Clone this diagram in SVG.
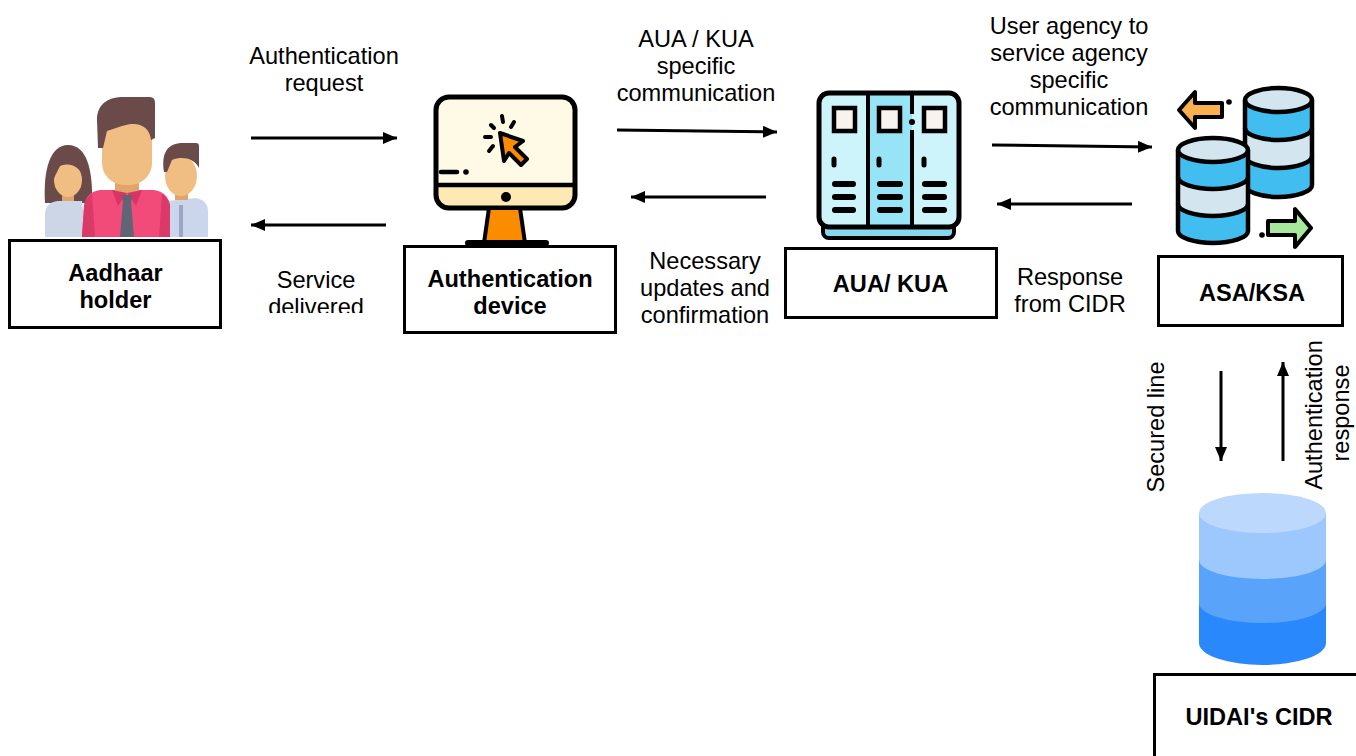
<svg xmlns="http://www.w3.org/2000/svg" width="1356" height="756" viewBox="0 0 1356 756">
  <defs>
    <marker id="head" viewBox="0 0 14 12" refX="14" refY="6" markerWidth="14" markerHeight="12" markerUnits="userSpaceOnUse" orient="auto">
      <path d="M0,0 L14,6 L0,12 Z" fill="#000"/>
    </marker>
    <clipPath id="svcClip"><rect x="240" y="250" width="160" height="63"/></clipPath>
    <clipPath id="screenClip"><rect x="436" y="97" width="139" height="111" rx="13"/></clipPath>
  </defs>
  <style>
    .box { fill: #fff; stroke: #000; stroke-width: 3; }
    .name { font-family: "Liberation Sans", Arial, sans-serif; font-weight: bold; font-size: 23.6px; fill: #000; text-anchor: middle; }
    .lbl { font-family: "Liberation Sans", Arial, sans-serif; font-size: 23.6px; fill: #000; text-anchor: middle; }
    .conn { stroke: #000; stroke-width: 3; fill: none; marker-end: url(#head); }
    .ink { stroke: #000; fill: none; stroke-linecap: round; stroke-linejoin: round; }
  </style>
  <rect width="1356" height="756" fill="#fff"/>

  <!-- Aadhaar holder -->
  <g id="aadhaar-holder">
    <!-- woman -->
    <path d="M45,203 C43,170 50,145 68,145 C87,145 93,170 92,203 Z" fill="#6b4a4a"/>
    <rect x="62" y="190" width="12" height="14" fill="#e0a56b"/>
    <ellipse cx="68" cy="180" rx="14" ry="17" fill="#f0be82"/>
    <path d="M53,180 C52,162 60,152 70,152 C80,152 86,162 84,176 C78,166 70,162 60,166 Z" fill="#6b4a4a"/>
    <path d="M45,237 L45,213 Q46,202 58,201 L82,201 L86,237 Z" fill="#cdd6e7"/>
    <!-- boy -->
    <path d="M165,237 L167,201 L196,198 Q208,200 208,212 L208,237 Z" fill="#cbd5eb"/>
    <rect x="179" y="205" width="4" height="32" fill="#9aa6c2"/>
    <rect x="175" y="186" width="13" height="14" fill="#e0a56b"/>
    <ellipse cx="181" cy="176" rx="16" ry="20" fill="#f0be82"/>
    <path d="M164,172 C161,152 168,143 183,143 L196,143 Q199,143 199,146 L199,168 C194,158 182,156 172,160 L167,172 Z" fill="#6b4a4a"/>
    <!-- man -->
    <path d="M82,237 L84,206 Q86,192 100,190 L154,190 Q168,192 170,206 L170,237 Z" fill="#f24b7a"/>
    <path d="M82,237 L84,206 Q85,198 92,194 L95,237 Z" fill="#db3a68"/>
    <path d="M170,237 L170,206 Q169,198 162,194 L159,237 Z" fill="#db3a68"/>
    <rect x="115" y="176" width="24" height="18" fill="#e0a56b"/>
    <path d="M112,190 L127,193 L118,206 Z" fill="#d83565"/>
    <path d="M142,190 L127,193 L136,206 Z" fill="#d83565"/>
    <path d="M122,195 L132,195 L131,201 L134,237 L120,237 L123,201 Z" fill="#5f6575"/>
    <rect x="102" y="117" width="50" height="68" rx="22" fill="#f0be82"/>
    <path d="M98,148 L97,120 C97,104 108,97 124,97 L150,97 Q155,97 155,103 L155,138 L151,140 C150,128 140,120 122,126 L107,131 L103,148 Z" fill="#6b4a4a"/>
  </g>

  <!-- Authentication device -->
  <g id="auth-device">
    <rect x="436" y="97" width="139" height="111" rx="13" fill="#fefae6"/>
    <rect x="430" y="185" width="150" height="30" fill="#fde9b4" clip-path="url(#screenClip)"/>
    <rect x="436" y="97" width="139" height="111" rx="13" fill="none" stroke="#000" stroke-width="5"/>
    <line x1="436" y1="185" x2="575" y2="185" stroke="#000" stroke-width="4.5"/>
    <circle cx="506" cy="197" r="5" fill="#000"/>
    <line class="ink" x1="441" y1="172" x2="457" y2="172" stroke-width="4.5"/>
    <circle cx="466" cy="172" r="2.8" fill="#000"/>
    <polygon points="489,208 520,208 525,243 484,243" fill="#fb8c00" stroke="#000" stroke-width="4" stroke-linejoin="round"/>
    <line class="ink" x1="468" y1="243" x2="546" y2="243" stroke-width="6"/>
    <polygon points="500,133 523,141 515,147 527,159 521,165 509,153 504,161" fill="#fb8c00" stroke="#000" stroke-width="4" stroke-linejoin="round"/>
    <g class="ink" stroke-width="4">
      <line x1="502" y1="116" x2="503" y2="122"/>
      <line x1="514" y1="122" x2="511" y2="127"/>
      <line x1="485" y1="137" x2="491" y2="137"/>
      <line x1="489" y1="151" x2="493" y2="146"/>
      <line x1="491" y1="125" x2="494" y2="128"/>
    </g>
  </g>

  <!-- AUA / KUA server -->
  <g id="aua-kua">
    <rect x="823" y="219" width="131" height="19" rx="6" fill="#87d8ee" stroke="#000" stroke-width="4"/>
    <rect x="819" y="93" width="140" height="134" rx="10" fill="#cdf3fb"/>
    <rect x="868" y="95" width="44" height="130" fill="#96e4f5"/>
    <rect x="819" y="93" width="140" height="134" rx="10" fill="none" stroke="#000" stroke-width="5"/>
    <line x1="868" y1="93" x2="868" y2="227" stroke="#000" stroke-width="4"/>
    <line x1="912" y1="93" x2="912" y2="114" stroke="#000" stroke-width="4"/>
    <line x1="912" y1="130" x2="912" y2="227" stroke="#000" stroke-width="4"/>
    <circle cx="912" cy="122" r="3" fill="#000"/>
    <g fill="#f8f3ee" stroke="#000" stroke-width="4.5">
      <rect x="834" y="108" width="21" height="23"/>
      <rect x="879" y="108" width="21" height="23"/>
      <rect x="924" y="108" width="21" height="23"/>
    </g>
    <g class="ink" stroke-width="5">
      <line x1="834" y1="159" x2="834" y2="165"/>
      <line x1="879" y1="159" x2="879" y2="165"/>
      <line x1="924" y1="159" x2="924" y2="165"/>
    </g>
    <g class="ink" stroke-width="6">
      <line x1="835" y1="184" x2="853" y2="184"/>
      <line x1="835" y1="197" x2="853" y2="197"/>
      <line x1="835" y1="210" x2="853" y2="210"/>
      <line x1="880" y1="184" x2="900" y2="184"/>
      <line x1="880" y1="197" x2="900" y2="197"/>
      <line x1="880" y1="210" x2="900" y2="210"/>
      <line x1="925" y1="184" x2="944" y2="184"/>
      <line x1="925" y1="197" x2="944" y2="197"/>
      <line x1="925" y1="210" x2="944" y2="210"/>
    </g>
  </g>

  <!-- ASA / KSA databases -->
  <g id="asa-ksa">
    <!-- back cylinder -->
    <path d="M1245,100 L1245,185 A33.5,12 0 0 0 1312,185 L1312,100 Z" fill="#41bdf0"/>
    <path d="M1245,128 L1245,156 A33.5,12 0 0 0 1312,156 L1312,128 A33.5,12 0 0 1 1245,128 Z" fill="#d3e5ee"/>
    <ellipse cx="1278.5" cy="100" rx="33.5" ry="12" fill="#d3e5ee"/>
    <g stroke="#000" stroke-width="4.5" fill="none">
      <path d="M1245,100 L1245,185 A33.5,12 0 0 0 1312,185 L1312,100"/>
      <ellipse cx="1278.5" cy="100" rx="33.5" ry="12"/>
      <path d="M1245,128 A33.5,12 0 0 0 1312,128"/>
      <path d="M1245,156 A33.5,12 0 0 0 1312,156"/>
    </g>
    <!-- front cylinder -->
    <path d="M1178,150 L1178,231 A35,12 0 0 0 1248,231 L1248,150 Z" fill="#41bdf0"/>
    <path d="M1178,177 L1178,204 A35,12 0 0 0 1248,204 L1248,177 A35,12 0 0 1 1178,177 Z" fill="#d3e5ee"/>
    <ellipse cx="1213" cy="150" rx="35" ry="12" fill="#d3e5ee"/>
    <g stroke="#000" stroke-width="4.5" fill="none">
      <path d="M1178,150 L1178,231 A35,12 0 0 0 1248,231 L1248,150"/>
      <ellipse cx="1213" cy="150" rx="35" ry="12"/>
      <path d="M1178,177 A35,12 0 0 0 1248,177"/>
      <path d="M1178,204 A35,12 0 0 0 1248,204"/>
    </g>
    <!-- outgoing / incoming arrows -->
    <polygon points="1179,110 1195,92 1195,103 1222,103 1222,117 1195,117 1195,128" fill="#fbb04f" stroke="#000" stroke-width="4" stroke-linejoin="round"/>
    <circle cx="1229" cy="102" r="2.8" fill="#000"/>
    <polygon points="1311,228 1295,209 1295,221 1268,221 1268,235 1295,235 1295,247" fill="#a6e99a" stroke="#000" stroke-width="4" stroke-linejoin="round"/>
    <circle cx="1262" cy="235" r="2.8" fill="#000"/>
  </g>

  <!-- UIDAI's CIDR store -->
  <g id="cidr">
    <path d="M1199,513 L1199,643 A63.5,22 0 0 0 1326,643 L1326,513 Z" fill="#2988fb"/>
    <path d="M1199,513 L1199,603 A63.5,20 0 0 0 1326,603 L1326,513 Z" fill="#5aa3fb"/>
    <path d="M1199,513 L1199,560 A63.5,19 0 0 0 1326,560 L1326,513 Z" fill="#9dc8fd"/>
    <ellipse cx="1262.5" cy="513" rx="63.5" ry="20" fill="#bcd9fd"/>
  </g>

  <!-- Labelled boxes -->
  <g id="box-aadhaar">
    <rect class="box" x="9.5" y="240.5" width="211" height="87"/>
    <text class="name" x="115.5" y="281">Aadhaar</text>
    <text class="name" x="115.5" y="308">holder</text>
  </g>
  <g id="box-device">
    <rect class="box" x="404.5" y="246.5" width="211" height="86"/>
    <text class="name" x="510" y="287">Authentication</text>
    <text class="name" x="510" y="314">device</text>
  </g>
  <g id="box-aua">
    <rect class="box" x="785.5" y="248.5" width="211" height="69"/>
    <text class="name" x="890.5" y="292">AUA/ KUA</text>
  </g>
  <g id="box-asa">
    <rect class="box" x="1158.5" y="256.5" width="184" height="69"/>
    <text class="name" x="1252" y="301">ASA/KSA</text>
  </g>
  <g id="box-cidr">
    <rect class="box" x="1154.5" y="674.5" width="260" height="120"/>
    <text class="name" x="1259" y="725">UIDAI's CIDR</text>
  </g>

  <!-- Connectors -->
  <g id="connectors">
    <line class="conn" x1="251" y1="138" x2="397" y2="138"/>
    <line class="conn" x1="386" y1="225" x2="251" y2="225"/>
    <line class="conn" x1="617" y1="130" x2="777" y2="132"/>
    <line class="conn" x1="766" y1="197" x2="631" y2="197"/>
    <line class="conn" x1="992" y1="145" x2="1152" y2="147"/>
    <line class="conn" x1="1132" y1="204" x2="997" y2="204"/>
    <line class="conn" x1="1221" y1="371" x2="1221" y2="461"/>
    <line class="conn" x1="1283" y1="461" x2="1283" y2="362"/>
  </g>

  <!-- Connector labels -->
  <g id="labels">
    <text class="lbl" x="324" y="64">Authentication</text>
    <text class="lbl" x="324" y="91">request</text>
    <g clip-path="url(#svcClip)">
      <text class="lbl" x="316" y="288">Service</text>
      <text class="lbl" x="316" y="315">delivered</text>
    </g>
    <text class="lbl" x="696" y="47">AUA / KUA</text>
    <text class="lbl" x="696" y="74">specific</text>
    <text class="lbl" x="696" y="101">communication</text>
    <text class="lbl" x="705" y="269">Necessary</text>
    <text class="lbl" x="705" y="296">updates and</text>
    <text class="lbl" x="705" y="323">confirmation</text>
    <text class="lbl" x="1069" y="34">User agency to</text>
    <text class="lbl" x="1069" y="61">service agency</text>
    <text class="lbl" x="1069" y="88">specific</text>
    <text class="lbl" x="1069" y="115">communication</text>
    <text class="lbl" x="1070" y="285">Response</text>
    <text class="lbl" x="1070" y="312">from CIDR</text>
    <text class="lbl" transform="translate(1164,427) rotate(-90)">Secured line</text>
    <text class="lbl" transform="translate(1322,415) rotate(-90)">Authentication</text>
    <text class="lbl" transform="translate(1349,413) rotate(-90)">response</text>
  </g>
</svg>
